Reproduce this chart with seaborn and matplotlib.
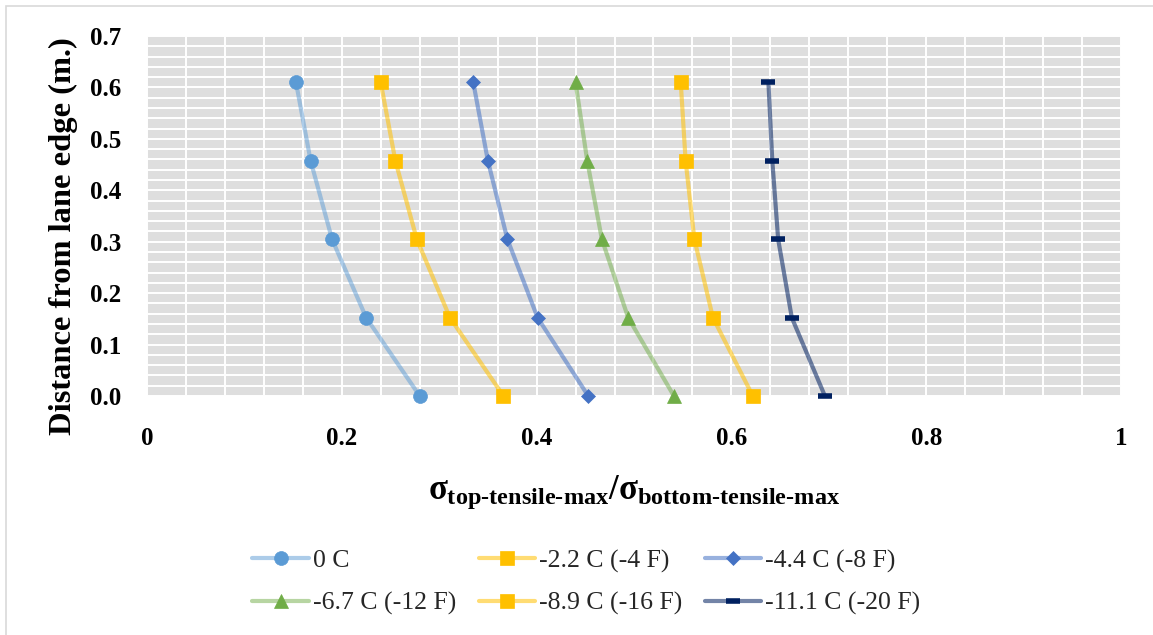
import matplotlib
matplotlib.use("Agg")
import matplotlib.pyplot as plt
from matplotlib.ticker import MultipleLocator, FixedLocator
from matplotlib.patches import Rectangle
import seaborn as sns
import pandas as pd

# Distance from lane edge (m) and stress ratio for each temperature
distance_m = [0.6096, 0.4572, 0.3048, 0.1524, 0.0]
ratio_0c = [0.153, 0.168, 0.190, 0.225, 0.280]
ratio_m2_2c = [0.240, 0.255, 0.277, 0.311, 0.366]
ratio_m4_4c = [0.335, 0.350, 0.370, 0.401, 0.453]
ratio_m6_7c = [0.440, 0.452, 0.467, 0.494, 0.541]
ratio_m8_9c = [0.548, 0.553, 0.562, 0.581, 0.622]
ratio_m11_1c = [0.638, 0.642, 0.648, 0.662, 0.696]

series_labels = ["0 C", "-2.2 C (-4 F)", "-4.4 C (-8 F)",
                 "-6.7 C (-12 F)", "-8.9 C (-16 F)", "-11.1 C (-20 F)"]
series_values = [ratio_0c, ratio_m2_2c, ratio_m4_4c,
                 ratio_m6_7c, ratio_m8_9c, ratio_m11_1c]

x_ticks = [0, 0.2, 0.4, 0.6, 0.8, 1.0]
x_tick_labels = ["0", "0.2", "0.4", "0.6", "0.8", "1"]
y_ticks = [0.0, 0.1, 0.2, 0.3, 0.4, 0.5, 0.6, 0.7]

# marker colour, marker shape, marker size, line alpha
styles = [
    ("#5B9BD5", "o", 10, 0.5),
    ("#FFC000", "s", 9.5, 0.55),
    ("#4472C4", "D", 7.5, 0.55),
    ("#70AD47", "^", 10, 0.5),
    ("#FFC000", "s", 9.5, 0.55),
    ("#002060", "_", 10, 0.55),
]

sns.set_theme(style="white")
plt.rcParams["font.family"] = ["Liberation Serif", "DejaVu Serif"]
plt.rcParams["mathtext.fontset"] = "custom"
plt.rcParams["mathtext.rm"] = "Liberation Serif:bold"
plt.rcParams["mathtext.it"] = "Liberation Serif:bold"
plt.rcParams["mathtext.bf"] = "Liberation Serif:bold"

fig = plt.figure(figsize=(11.53, 6.35), dpi=100)
ax = fig.add_axes([147 / 1153, 1 - 396 / 635, (1121 - 147) / 1153, (396 - 36) / 635])
ax.set_facecolor("#DEDEDE")

for label, values, (mcol, mk, ms, alpha) in zip(series_labels, series_values, styles):
    df = pd.DataFrame({"ratio": values, "dist": distance_m})
    rgb = matplotlib.colors.to_rgb(mcol)
    kws = dict(markerfacecolor=mcol, markeredgecolor=mcol)
    kws["markeredgewidth"] = 4.0 if mk == "_" else 0.5
    sns.lineplot(data=df, x="ratio", y="dist", sort=False, ax=ax,
                 color=(*rgb, alpha), linewidth=3.0, marker=mk, markersize=ms,
                 label=label, clip_on=False, zorder=3, **kws)

ax.set_xlim(0, 1)
ax.set_ylim(0, 0.7)
ax.xaxis.set_major_locator(FixedLocator(x_ticks))
ax.set_xticklabels(x_tick_labels)
ax.yaxis.set_major_locator(FixedLocator(y_ticks))
ax.set_yticklabels([f"{v:.1f}" for v in y_ticks])
ax.xaxis.set_minor_locator(MultipleLocator(0.04))
ax.yaxis.set_minor_locator(MultipleLocator(0.02))
ax.grid(which="both", color="white", linewidth=1.4)
ax.set_axisbelow(True)
for s in ax.spines.values():
    s.set_visible(False)
ax.tick_params(which="both", length=0)
ax.tick_params(axis="x", pad=22, labelsize=18)
ax.tick_params(axis="y", pad=18.5, labelsize=18)
for t in ax.get_xticklabels() + ax.get_yticklabels():
    t.set_fontweight("bold")
    t.set_color("black")

ax.set_xlabel(r"$\sigma_{\text{top-tensile-max}}/\sigma_{\text{bottom-tensile-max}}$",
              fontsize=25, labelpad=17, color="black")
ax.set_ylabel("Distance from lane edge (m.)", fontsize=23.4, fontweight="bold",
              color="black")
ax.yaxis.set_label_coords((78 - 147) / 974, (396 - 236) / 360)

# Row-wise legend order for a 3-column layout
handles, labels = ax.get_legend_handles_labels()
order = [0, 3, 1, 4, 2, 5]
ax.legend([handles[i] for i in order], [labels[i] for i in order], ncol=3,
          loc="upper left",
          bbox_to_anchor=(242 / 1153, 1 - 539 / 635), bbox_transform=fig.transFigure,
          frameon=False, fontsize=18.5, handlelength=2.2, handletextpad=0.15,
          columnspacing=0.88, labelspacing=0.75, borderaxespad=0)

fig.patches.append(Rectangle((6 / 1153, -0.1), 1.2, 1 - 6 / 635 + 0.1,
                             transform=fig.transFigure, fill=False,
                             edgecolor="#D9D9D9", linewidth=1.2))

fig.savefig("out.png", dpi=100, facecolor="white")
